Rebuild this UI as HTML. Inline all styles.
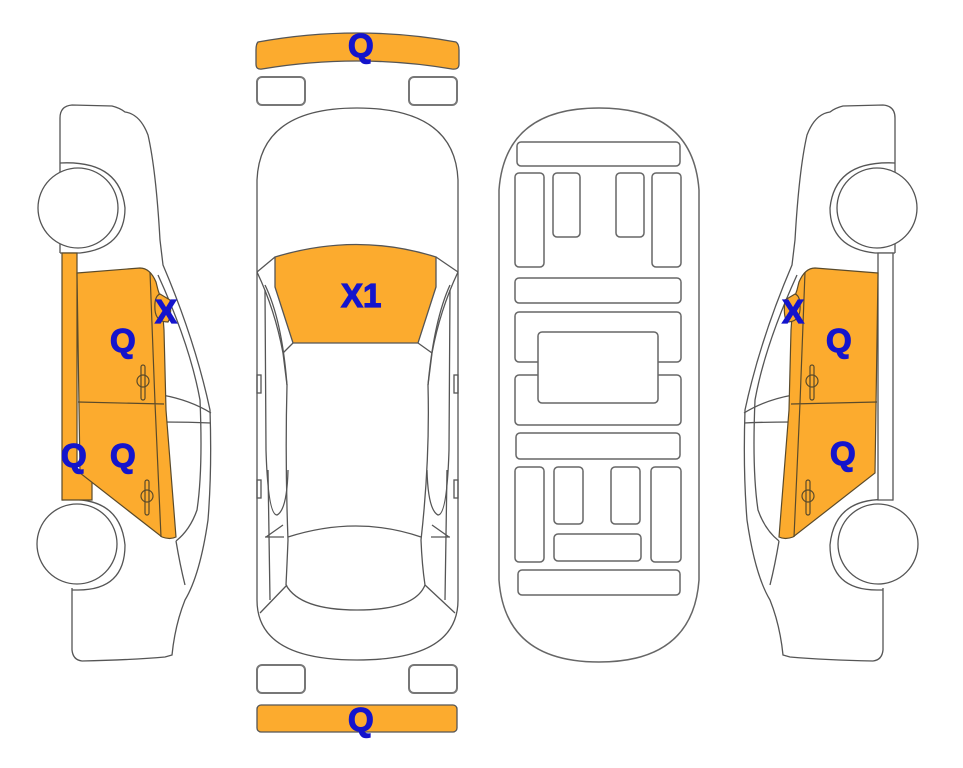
<!DOCTYPE html>
<html><head><meta charset="utf-8"><style>
html,body{margin:0;padding:0;background:#fff;}
svg{display:block}
text{font-family:"Liberation Sans",sans-serif;font-weight:bold;fill:#1414cc;stroke:#1414cc;stroke-width:1.2px;font-size:33px}
</style></head><body>
<svg width="963" height="768" viewBox="0 0 963 768" xmlns="http://www.w3.org/2000/svg">
<defs>
<g id="body" fill="none" stroke="#555" stroke-width="1.3">
<path d="M60,253 L60,118 Q60,106 72,105 L112,106 Q120,108 125,112 Q140,114 148,135 Q156,170 160,240 L163,265 Q195,340 210,410 Q212,470 208,520 Q200,575 185,600 Q175,625 172,655 L165,657 Q130,660 82,661 Q73,660 72,650 L72,588" fill="#fff"/>
<path d="M158,275 Q190,345 200,400 Q203,470 197,510 Q190,530 176,541"/>
<path d="M162,395 Q190,400 211,413 M163,422 Q190,422 211,423"/>
<path d="M176,541 Q180,565 185,585"/>
<path d="M60,163 Q120,160 125,208 Q125,248 80,253 L60,253"/>
<path d="M62,500 Q120,495 125,545 Q125,590 78,590 L72,590"/>
<circle cx="78" cy="208" r="40" fill="#fff"/>
<circle cx="77" cy="544" r="40" fill="#fff"/>
</g>
<g id="door" stroke="#5a4a2a" stroke-width="1.2">
<path d="M77,273 L140,268 Q150,268 156,282 L158,290 Q162,300 164,330 L166,410 L176,537 Q170,540 162,537 L80,473 Z" fill="#fcab2e"/>
<path d="M150,272 L155,403 L161,537 M78,402 L164,404" fill="none"/>
<path d="M160,294 Q154,296 155,310 Q156,322 168,322 Q172,316 170,300 Z" fill="#fcab2e"/>
<rect x="141" y="365" width="4" height="35" rx="2" fill="none"/><ellipse cx="143" cy="381" rx="6" ry="6" fill="none"/>
<rect x="145" y="480" width="4" height="35" rx="2" fill="none"/><ellipse cx="147" cy="496" rx="6" ry="6" fill="none"/>
</g>
</defs>

<use href="#body"/>
<path d="M62,253 L77,253 L77,470 L92,470 L92,500 L62,500 Z" fill="#fcab2e" stroke="#5a4a2a" stroke-width="1.2"/>
<use href="#door"/>
<text x="110" y="352">Q</text><text x="110" y="467">Q</text><text x="61" y="467">Q</text><text x="155" y="323">X</text>

<g transform="translate(955,0) scale(-1,1)">
<use href="#body"/>
<path d="M62,253 L77,253 L77,500 L62,500 Z" fill="#fff" stroke="#555" stroke-width="1.3"/>
<use href="#door"/>
</g>
<text x="826" y="352">Q</text><text x="830" y="465">Q</text><text x="782" y="323">X</text>

<g fill="none" stroke="#555" stroke-width="1.3">
<path d="M258,42 Q357,24 456,42 Q459,44 459,50 L459,64 Q459,70 452,69 Q357,53 262,69 Q256,70 256,64 L256,50 Q256,44 258,42 Z" fill="#fcab2e"/>
<rect x="257" y="77" width="48" height="28" rx="5" stroke="#777" stroke-width="2"/>
<rect x="409" y="77" width="48" height="28" rx="5" stroke="#777" stroke-width="2"/>
<path d="M257,180 Q260,108 357,108 Q455,108 458,180 L458,600 Q458,660 357,660 Q257,660 257,600 Z" fill="#fff"/>
<path d="M275,257 Q357,232 436,257 L436,287 L418,343 L293,343 L275,287 Z" fill="#fcab2e"/>
<path d="M257,272 L275,257 M436,257 L458,272"/>
<path d="M257,272 Q275,310 283,353 L287,385 M458,272 Q440,310 432,353 L428,385"/>
<path d="M265,285 Q282,320 287,385 M450,285 Q434,320 428,385"/>
<path d="M293,343 L283,353 M418,343 L432,353"/>
<path d="M287,385 Q285,460 288,540 Q287,565 286,585 M428,385 Q430,460 421,540 Q422,565 425,585"/>
<path d="M265,290 L266,450 Q268,515 277,515 Q287,510 288,470 M450,290 L449,450 Q447,515 438,515 Q428,510 427,470"/>
<path d="M288,537 Q357,515 421,537"/>
<path d="M286,585 Q300,610 357,610 Q415,610 425,585"/>
<path d="M266,537 L283,525 M265,537 L284,537 M449,537 L432,525 M450,537 L431,537"/>
<path d="M260,613 L287,585 M455,613 L425,585 M270,600 L268,470 M445,600 L447,470"/>
<rect x="257" y="375" width="4" height="18"/><rect x="454" y="375" width="4" height="18"/>
<rect x="257" y="480" width="4" height="18"/><rect x="454" y="480" width="4" height="18"/>
<rect x="257" y="665" width="48" height="28" rx="5" stroke="#777" stroke-width="2"/>
<rect x="409" y="665" width="48" height="28" rx="5" stroke="#777" stroke-width="2"/>
<rect x="257" y="705" width="200" height="27" rx="4" fill="#fcab2e"/>
</g>
<text x="348" y="57">Q</text><text x="341" y="307">X1</text><text x="348" y="731">Q</text>

<g fill="none" stroke="#666" stroke-width="1.5">
<path d="M499,190 Q505,108 599,108 Q693,108 699,190 L699,580 Q693,662 599,662 Q505,662 499,580 Z" fill="#fff"/>
<rect x="517" y="142" width="163" height="24" rx="4"/>
<rect x="515" y="173" width="29" height="94" rx="4"/>
<rect x="553" y="173" width="27" height="64" rx="4"/>
<rect x="616" y="173" width="28" height="64" rx="4"/>
<rect x="652" y="173" width="29" height="94" rx="4"/>
<rect x="515" y="278" width="166" height="25" rx="4"/>
<rect x="515" y="312" width="166" height="50" rx="4"/>
<rect x="515" y="375" width="166" height="50" rx="4"/>
<rect x="538" y="332" width="120" height="71" rx="4" fill="#fff"/>
<rect x="516" y="433" width="164" height="26" rx="4"/>
<rect x="515" y="467" width="29" height="95" rx="4"/>
<rect x="554" y="467" width="29" height="57" rx="4"/>
<rect x="611" y="467" width="29" height="57" rx="4"/>
<rect x="651" y="467" width="30" height="95" rx="4"/>
<rect x="554" y="534" width="87" height="27" rx="4"/>
<rect x="518" y="570" width="162" height="25" rx="4"/>
</g>
</svg>
</body></html>
